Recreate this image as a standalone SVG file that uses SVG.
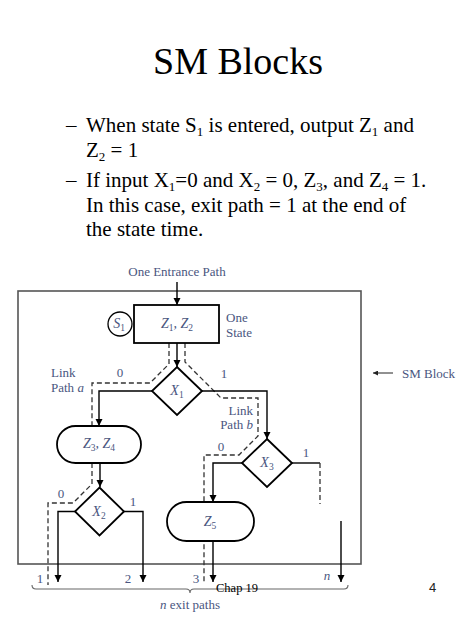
<svg xmlns="http://www.w3.org/2000/svg" width="474" height="632" viewBox="0 0 474 632">
<style>
.t{font-family:"Liberation Serif","Times New Roman",serif;fill:#000;}
.lbl{font-family:"Liberation Serif","Times New Roman",serif;font-size:13px;fill:#4a5680;}
.nl{font-family:"Liberation Serif","Times New Roman",serif;font-size:14px;fill:#4a5680;font-style:italic;}
.it{font-style:italic;}
.sub{font-size:9.5px;font-style:normal;}
.bsub{font-size:13px;}
.node{fill:#fff;stroke:#000;stroke-width:1.8;}
.sol{fill:none;stroke:#000;stroke-width:1.4;}
.arr{fill:none;stroke:#000;stroke-width:1.4;marker-end:url(#ah);}
.dash{fill:none;stroke:#333;stroke-width:1.3;stroke-dasharray:5 3;}
.frame{fill:none;stroke:#555;stroke-width:1.6;}
</style>
<defs>
<marker id="ah" viewBox="0 0 10 10" refX="10" refY="5" markerWidth="7" markerHeight="9" markerUnits="userSpaceOnUse" orient="auto">
<path d="M0,0 L10,5 L0,10 z" fill="#000"/>
</marker>
<marker id="ahs" viewBox="0 0 10 10" refX="10" refY="5" markerWidth="6" markerHeight="5" markerUnits="userSpaceOnUse" orient="auto">
<path d="M0,0 L10,5 L0,10 z" fill="#222"/>
</marker>
</defs>
<rect width="474" height="632" fill="#fff"/>

<g id="title">
<text class="t" x="238" y="74" font-size="38" text-anchor="middle">SM Blocks</text>
</g>

<g id="bullets" class="t" font-size="21">
<text x="66" y="132">–</text>
<text x="86" y="132">When state S<tspan class="bsub" dy="4">1</tspan><tspan dy="-4"> is entered, output Z</tspan><tspan class="bsub" dy="4">1</tspan><tspan dy="-4"> and</tspan></text>
<text x="86" y="157">Z<tspan class="bsub" dy="4">2</tspan><tspan dy="-4"> = 1</tspan></text>
<text x="66" y="187">–</text>
<text x="86" y="187">If input X<tspan class="bsub" dy="4">1</tspan><tspan dy="-4">=0 and X</tspan><tspan class="bsub" dy="4">2</tspan><tspan dy="-4"> = 0, Z</tspan><tspan class="bsub" dy="4">3</tspan><tspan dy="-4">, and Z</tspan><tspan class="bsub" dy="4">4</tspan><tspan dy="-4"> = 1.</tspan></text>
<text x="86" y="212">In this case, exit path = 1 at the end of</text>
<text x="86" y="236">the state time.</text>
</g>

<rect id="sm-block-frame" class="frame" x="18" y="291" width="343" height="273"/>

<g id="connectors">
<path class="arr" d="M177,282 V305"/>
<path class="arr" d="M177,343 V367"/>
<path class="dash" d="M169,343 V364 L150,383 H92 V426"/>
<path class="arr" d="M152,391 H99 V426"/>
<path class="dash" d="M185,343 V362 L221,398 H258 V436 L239,455 H204 V584"/>
<path class="arr" d="M202,391 H267 V439"/>
<path class="arr" d="M242,463 H213 V502"/>
<path class="sol" d="M292,463 H320"/>
<path class="dash" d="M320,463 V504"/>
<path class="arr" d="M213,541 V582"/>
<path class="arr" d="M100,463 V487"/>
<path class="dash" d="M92,463 V484 L73,503 H48 V585"/>
<path class="arr" d="M75,511.5 H58 V582"/>
<path class="arr" d="M124,511.5 H143 V582"/>
<path class="arr" d="M341,521 V582"/>
<path fill="none" stroke="#222" stroke-width="1" marker-end="url(#ahs)" d="M393,373 H373"/>
<path fill="none" stroke="#666" stroke-width="1.1" d="M32,585 Q32,589 36,589 H186 Q190,589 190,593 Q190,589 194,589 H344 Q348,589 348,585"/>
</g>

<g id="state-S1">
<rect class="node" x="134" y="305" width="85" height="38"/>
<text class="nl" x="177" y="328" text-anchor="middle">Z<tspan class="sub" dy="3">1</tspan><tspan dy="-3">, Z</tspan><tspan class="sub" dy="3">2</tspan></text>
<circle cx="120" cy="324" r="12" fill="#fff" stroke="#000" stroke-width="1.3"/>
<text class="nl" x="119" y="328" text-anchor="middle">S<tspan class="sub" dy="3">1</tspan></text>
</g>

<g id="decision-X1">
<polygon class="node" points="177,367 202,391 177,415 152,391"/>
<text class="nl" x="177" y="395" text-anchor="middle">X<tspan class="sub" dy="3">1</tspan></text>
</g>

<g id="output-Z3Z4">
<rect class="node" x="57" y="426" width="84" height="37" rx="18.5"/>
<text class="nl" x="99" y="448" text-anchor="middle">Z<tspan class="sub" dy="3">3</tspan><tspan dy="-3">, Z</tspan><tspan class="sub" dy="3">4</tspan></text>
</g>

<g id="decision-X2">
<polygon class="node" points="99.5,487.5 124,511.5 99.5,535.5 75,511.5"/>
<text class="nl" x="99" y="516" text-anchor="middle">X<tspan class="sub" dy="3">2</tspan></text>
</g>

<g id="decision-X3">
<polygon class="node" points="267,439 292,463 267,487 242,463"/>
<text class="nl" x="267" y="467" text-anchor="middle">X<tspan class="sub" dy="3">3</tspan></text>
</g>

<g id="output-Z5">
<rect class="node" x="167" y="502" width="87" height="39" rx="19.5"/>
<text class="nl" x="210" y="526" text-anchor="middle">Z<tspan class="sub" dy="3">5</tspan></text>
</g>

<g id="labels" class="lbl">
<text x="177" y="276" text-anchor="middle">One Entrance Path</text>
<text x="226" y="322">One</text>
<text x="226" y="337">State</text>
<text x="51" y="377">Link</text>
<text x="51" y="392">Path <tspan class="it">a</tspan></text>
<text x="120" y="377" text-anchor="middle">0</text>
<text x="224" y="378" text-anchor="middle">1</text>
<text x="253" y="415" text-anchor="end">Link</text>
<text x="253" y="429" text-anchor="end">Path <tspan class="it">b</tspan></text>
<text x="221" y="451" text-anchor="middle">0</text>
<text x="306" y="457" text-anchor="middle">1</text>
<text x="61" y="498" text-anchor="middle">0</text>
<text x="133" y="506" text-anchor="middle">1</text>
<text x="40" y="583" text-anchor="middle">1</text>
<text x="128" y="583" text-anchor="middle">2</text>
<text x="196" y="583" text-anchor="middle">3</text>
<text class="it" x="327" y="580" text-anchor="middle">n</text>
<text x="190" y="609" text-anchor="middle"><tspan class="it">n</tspan> exit paths</text>
<text x="402" y="378">SM Block</text>
</g>

<g id="footer">
<text class="t" x="216" y="592" font-size="12.5">Chap 19</text>
<text x="429" y="592" font-family="Liberation Sans, Arial, sans-serif" font-size="13" fill="#222">4</text>
</g>
</svg>
